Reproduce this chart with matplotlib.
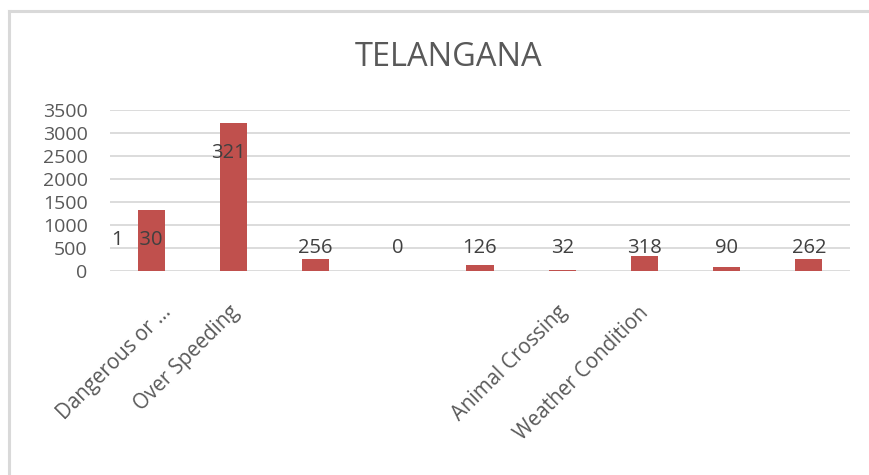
import matplotlib
matplotlib.use("Agg")
import matplotlib.pyplot as plt
from matplotlib.lines import Line2D
import matplotlib.transforms as mtransforms

title = "TELANGANA"
categories = ["Dangerous or ...", "Over Speeding", "", "", "", "Animal Crossing",
              "Weather Condition", "", ""]
values = [1330, 3214, 256, 0, 126, 32, 318, 90, 262]
label_texts = ["1   30", "321", "256", "0", "126", "32", "318", "90", "262"]
y_ticks = [0, 500, 1000, 1500, 2000, 2500, 3000, 3500]

bar_color = "#C0504D"
text_color = "#595959"
grid_color = "#D9D9D9"
font = "Open Sans"

fig = plt.figure(figsize=(8.7, 4.75), dpi=100)
ax = fig.add_axes([0.1264, 0.4295, 0.8506, 0.3389])

x = list(range(len(categories)))
ax.bar(x, values, width=0.33, color=bar_color, zorder=3)
ax.set_xlim(-0.5, len(categories) - 0.5)
ax.set_ylim(0, 3500)
ax.set_yticks(y_ticks)
ax.set_yticklabels([str(t) for t in y_ticks], fontsize=14, color=text_color, family=font)
ax.tick_params(axis="y", length=0, pad=16)
ax.tick_params(axis="x", length=0)
ax.set_xticks(x)
ax.set_xticklabels([""] * len(x))
ax.grid(axis="y", color=grid_color, linewidth=1.3, zorder=0)
for s in ax.spines.values():
    s.set_visible(False)

# category labels (rotated)
trans = mtransforms.blended_transform_factory(ax.transData, fig.transFigure)
cat_dx = [0.12, -0.05, 0, 0, 0, -0.06, -0.08, 0, 0]
for i, c in enumerate(categories):
    if c:
        ax.text(i + cat_dx[i], 1 - 302 / 475, c, transform=trans, rotation=45,
                rotation_mode="anchor", ha="right", va="top", fontsize=14.8,
                color=text_color, family=font)

# data labels
label_dx = [-0.165, -0.065, 0, 0, 0, 0, 0, 0, 0]
label_y = [674, 2565, 500, 500, 500, 500, 500, 500, 500]
for i, (t, dx, ly) in enumerate(zip(label_texts, label_dx, label_y)):
    ax.text(i + dx, ly, t, ha="center", va="center", fontsize=14.5,
            color="#404040", family=font, zorder=4)

fig.text(449 / 870, 1 - 57 / 475, title, ha="center", va="center",
         fontsize=23.5, color=text_color, family=font)

# outer frame
fig.add_artist(Line2D([9.5 / 870, 9.5 / 870], [0, 1 - 11 / 475], color="#D9D9D9",
                      linewidth=2.2, transform=fig.transFigure))
fig.add_artist(Line2D([9.5 / 870, 1], [1 - 11 / 475, 1 - 11 / 475], color="#D9D9D9",
                      linewidth=2.2, transform=fig.transFigure))

fig.savefig("out.png", dpi=100, facecolor="white")
